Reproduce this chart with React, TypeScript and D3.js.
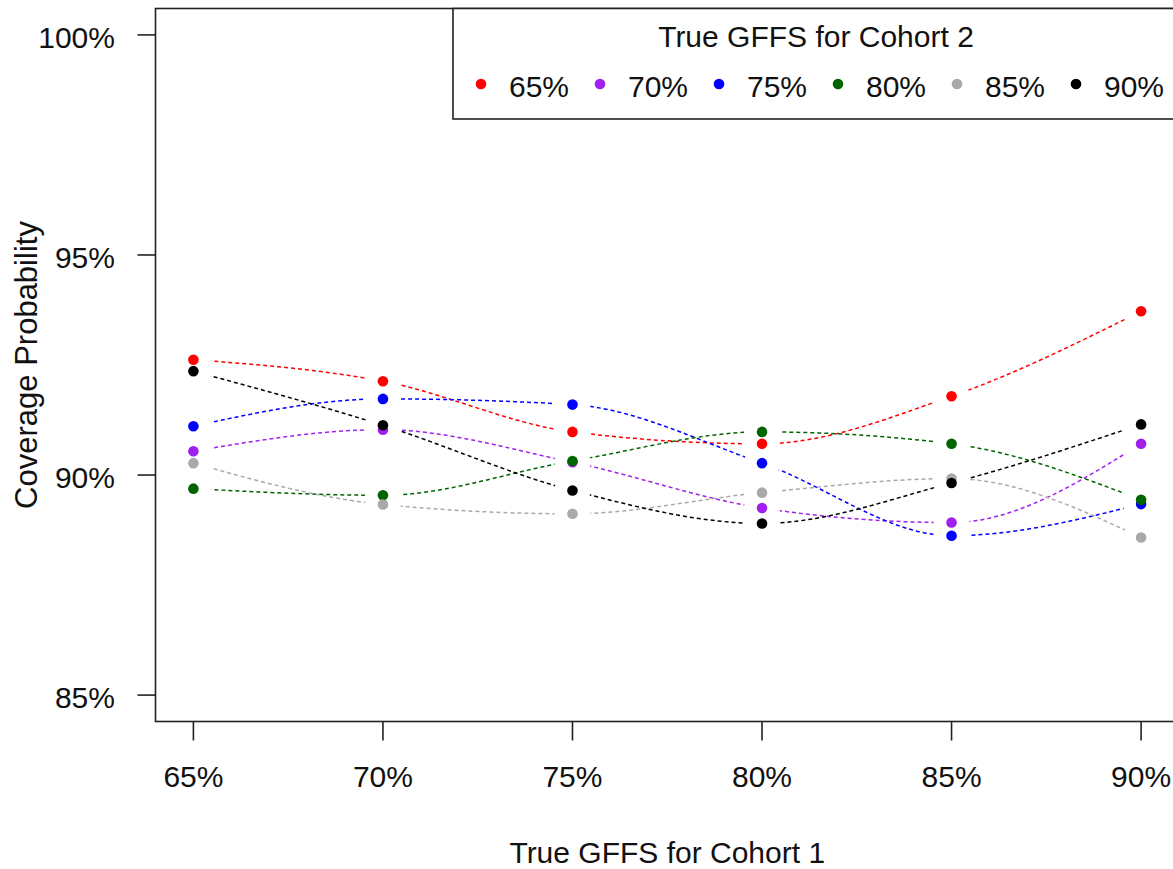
import * as d3 from 'd3'

const W = 1173
const H = 869

// true GFFS for cohort 1 (x) and cohort 2 (series)
const cohort1 = [65, 70, 75, 80, 85, 90]
const cohort2Labels = ['65%', '70%', '75%', '80%', '85%', '90%']
const seriesColors = ['#ff0000', '#a020f0', '#0000ff', '#006400', '#a9a9a9', '#000000']

// coverage probability (%)
const cov65 = [92.62, 92.13, 90.98, 90.71, 91.79, 93.72]
const cov70 = [90.54, 91.03, 90.29, 89.25, 88.92, 90.71]
const cov75 = [91.11, 91.73, 91.6, 90.27, 88.62, 89.34]
const cov80 = [89.69, 89.54, 90.32, 90.98, 90.71, 89.44]
const cov85 = [90.27, 89.33, 89.12, 89.6, 89.92, 88.58]
const cov90 = [92.36, 91.13, 89.65, 88.9, 89.82, 91.15]

const yTicks = [85, 90, 95, 100]

const series = [cov65, cov70, cov75, cov80, cov85, cov90].map((values, i) => ({
  label: cohort2Labels[i],
  color: seriesColors[i],
  values,
}))

const FONT = '"Liberation Sans", Arial, sans-serif'

export default function App() {
  const x = d3.scaleLinear().domain([64, 91]).range([155.5, 1179])
  const y = d3.scaleLinear().domain([84.4, 100.6]).range([721.5, 8.5])

  const line = d3
    .line<number>()
    .x((_, j) => x(cohort1[j]))
    .y((v) => y(v))
    .curve(d3.curveMonotoneX)

  const [x0, x1] = x.range()
  const [yb, yt] = y.range()
  const legendLeft = 453
  const legendBottom = 119

  return (
    <svg
      width={W}
      height={H}
      style={{ position: 'absolute', left: 0, top: 0, background: '#fff' }}
      fontFamily={FONT}
    >
      <defs>
        {series.map((s, i) => (
          <mask key={i} id={`gap-${i}`} maskUnits="userSpaceOnUse" x={0} y={0} width={W} height={H}>
            <rect width={W} height={H} fill="white" />
            {s.values.map((v, j) => (
              <circle key={j} cx={x(cohort1[j])} cy={y(v)} r={18} fill="black" />
            ))}
          </mask>
        ))}
      </defs>
      <rect width={W} height={H} fill="#fff" />

      {/* series lines */}
      {series.map((s, i) => (
        <path
          key={`l${i}`}
          d={line(s.values) || ''}
          fill="none"
          stroke={s.color}
          strokeWidth={1.5}
          strokeDasharray="4 3"
          mask={`url(#gap-${i})`}
        />
      ))}
      {/* points */}
      {series.map((s, i) => (
        <g key={`p${i}`} fill={s.color}>
          {s.values.map((v, j) => (
            <circle key={j} cx={x(cohort1[j])} cy={y(v)} r={5.3} />
          ))}
        </g>
      ))}

      {/* plot box */}
      <rect x={x0} y={yt} width={x1 - x0} height={yb - yt} fill="none" stroke="#222" strokeWidth={1.6} />

      {/* y axis */}
      {yTicks.map((t) => (
        <g key={`y${t}`}>
          <line x1={x0 - 18} x2={x0} y1={y(t)} y2={y(t)} stroke="#222" strokeWidth={1.6} />
          <text x={115} y={y(t) + 13} textAnchor="end" fontSize={30} fill="#111">
            {t}%
          </text>
        </g>
      ))}
      {/* x axis */}
      {cohort1.map((t) => (
        <g key={`x${t}`}>
          <line x1={x(t)} x2={x(t)} y1={yb} y2={yb + 19} stroke="#222" strokeWidth={1.6} />
          <text x={x(t)} y={787} textAnchor="middle" fontSize={30} fill="#111">
            {t}%
          </text>
        </g>
      ))}

      <text x={(x0 + x1) / 2} y={863} textAnchor="middle" fontSize={30} fill="#111">
        True GFFS for Cohort 1
      </text>
      <text
        transform={`translate(37,${(yt + yb) / 2}) rotate(-90)`}
        textAnchor="middle"
        fontSize={31}
        fill="#111"
      >
        Coverage Probability
      </text>

      {/* legend */}
      <rect
        x={legendLeft}
        y={yt}
        width={x1 - legendLeft}
        height={legendBottom - yt}
        fill="#fff"
        stroke="#222"
        strokeWidth={1.6}
      />
      <text x={(legendLeft + x1) / 2} y={47} textAnchor="middle" fontSize={30} fill="#111">
        True GFFS for Cohort 2
      </text>
      {series.map((s, i) => (
        <g key={`lg${i}`} transform={`translate(${481 + i * 119},0)`}>
          <circle cx={0} cy={84} r={5.3} fill={s.color} />
          <text x={28} y={97} fontSize={30} fill="#111">
            {s.label}
          </text>
        </g>
      ))}
    </svg>
  )
}
